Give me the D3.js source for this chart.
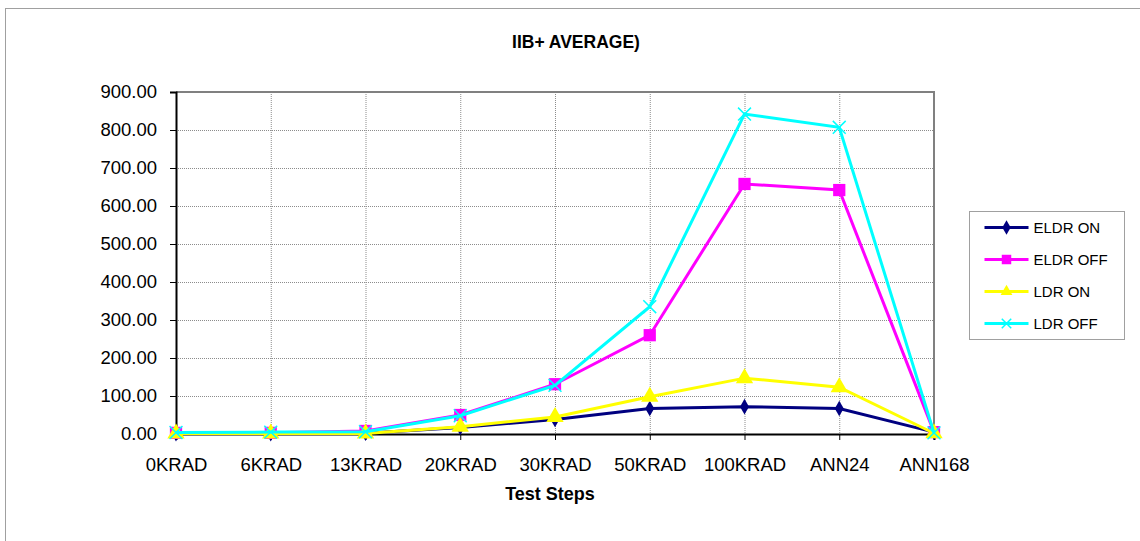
<!DOCTYPE html>
<html>
<head>
<meta charset="utf-8">
<script src="https://cdn.jsdelivr.net/npm/d3@7"></script>
<style>
  body { margin: 0; background: #fff; }
  svg { display: block; font-family: "Liberation Sans", Arial, sans-serif; }
</style>
</head>
<body>
<div id="chart"></div>
<script>
// categories along the x axis
const steps = ["0KRAD", "6KRAD", "13KRAD", "20KRAD", "30KRAD", "50KRAD", "100KRAD", "ANN24", "ANN168"];

// series values
const eldrOn  = [1, 1, 2, 17, 38, 67, 72, 67, 5];
const eldrOff = [3, 3, 8, 50, 131, 260, 658, 642, 5];
const ldrOn   = [1, 1, 1, 19, 45, 98, 147, 123, 2];
const ldrOff  = [4, 5, 6, 48, 128, 335, 842, 807, 3];

const yTicks = [0, 100, 200, 300, 400, 500, 600, 700, 800, 900];

const series = [
  { name: "ELDR ON",  values: eldrOn,  color: "#000080", marker: "diamond" },
  { name: "ELDR OFF", values: eldrOff, color: "#FF00FF", marker: "square" },
  { name: "LDR ON",   values: ldrOn,   color: "#FFFF00", marker: "triangle" },
  { name: "LDR OFF",  values: ldrOff,  color: "#00FFFF", marker: "cross" }
];

const width = 1140, height = 541;
const plot = { left: 176, right: 934, top: 92, bottom: 434 };

const svg = d3.select("#chart").append("svg")
  .attr("width", width)
  .attr("height", height);

// outer chart border (runs off the right and bottom)
svg.append("rect")
  .attr("x", 5.5).attr("y", 8.5)
  .attr("width", 1140).attr("height", 540)
  .attr("fill", "none")
  .attr("stroke", "#a0a0a0")
  .attr("stroke-width", 1);

const x = d3.scalePoint().domain(steps).range([plot.left, plot.right]);
const y = d3.scaleLinear().domain([0, 900]).range([plot.bottom, plot.top]);

// gridlines
const grid = svg.append("g");
grid.selectAll("line.h")
  .data(yTicks.slice(1))
  .join("line")
  .attr("x1", plot.left).attr("x2", plot.right)
  .attr("y1", d => y(d) + 0.5).attr("y2", d => y(d) + 0.5)
  .attr("stroke", "#8c8c8c")
  .attr("stroke-width", 1)
  .attr("stroke-dasharray", "1,1");
grid.selectAll("line.v")
  .data(steps.slice(1, -1))
  .join("line")
  .attr("x1", d => x(d) + 0.5).attr("x2", d => x(d) + 0.5)
  .attr("y1", plot.top).attr("y2", plot.bottom)
  .attr("stroke", "#8c8c8c")
  .attr("stroke-width", 1)
  .attr("stroke-dasharray", "1,1");

// plot frame: top & right gray
svg.append("path")
  .attr("d", `M${plot.left},${plot.top} H${plot.right} V${plot.bottom}`)
  .attr("fill", "none")
  .attr("stroke", "#808080")
  .attr("stroke-width", 2);

// axes
const yAxis = svg.append("g")
  .attr("transform", `translate(${plot.left},0)`)
  .call(d3.axisLeft(y).tickValues(yTicks).tickFormat(d3.format(".2f")).tickSize(6).tickPadding(13));
const xAxis = svg.append("g")
  .attr("transform", `translate(0,${plot.bottom})`)
  .call(d3.axisBottom(x).tickSize(6).tickPadding(18));

[yAxis, xAxis].forEach(a => {
  a.select(".domain").attr("stroke", "#000").attr("stroke-width", 2);
  a.selectAll(".tick line").attr("stroke", "#000");
  a.selectAll(".tick text")
    .attr("fill", "#000")
    .style("font-size", "18.5px")
    .style("font-family", "\"Liberation Sans\", Arial, sans-serif");
});

// marker shapes
const symbolFor = {
  diamond:  d3.symbol().type(d3.symbolDiamond).size(70),
  square:   d3.symbol().type(d3.symbolSquare).size(150),
  triangle: d3.symbol().type(d3.symbolTriangle).size(130),
  cross:    d3.symbol().type(d3.symbolX).size(110)
};

const line = d3.line()
  .x((d, i) => x(steps[i]))
  .y(d => y(d));

series.forEach(s => {
  const g = svg.append("g");
  g.append("path")
    .datum(s.values)
    .attr("d", line)
    .attr("fill", "none")
    .attr("stroke", s.color)
    .attr("stroke-width", 3);
  g.selectAll("path.m")
    .data(s.values)
    .join("path")
    .attr("transform", (d, i) => `translate(${x(steps[i])},${y(d)})`)
    .attr("d", symbolFor[s.marker])
    .attr("fill", s.marker === "cross" ? "none" : s.color)
    .attr("stroke", s.color)
    .attr("stroke-width", s.marker === "cross" ? 1.5 : 0);
});

// title
svg.append("text")
  .attr("x", 576).attr("y", 48)
  .attr("text-anchor", "middle")
  .style("font-size", "17.5px")
  .style("font-weight", "bold")
  .text("IIB+ AVERAGE)");

// x axis title
svg.append("text")
  .attr("x", 550).attr("y", 500)
  .attr("text-anchor", "middle")
  .style("font-size", "18px")
  .style("font-weight", "bold")
  .text("Test Steps");

// legend
const legend = svg.append("g").attr("transform", "translate(969.5,211.5)");
legend.append("rect")
  .attr("width", 155).attr("height", 128)
  .attr("fill", "#fff")
  .attr("stroke", "#a0a0a0");
const items = legend.selectAll("g.item")
  .data(series)
  .join("g")
  .attr("transform", (d, i) => `translate(0,${16 + i * 32})`);
items.append("line")
  .attr("x1", 15).attr("x2", 59)
  .attr("stroke", d => d.color)
  .attr("stroke-width", 3);
items.append("path")
  .attr("transform", "translate(37,0)")
  .attr("d", d => d3.symbol().type({diamond: d3.symbolDiamond, square: d3.symbolSquare, triangle: d3.symbolTriangle, cross: d3.symbolX}[d.marker]).size(d.marker === "square" ? 90 : 60)())
  .attr("fill", d => d.marker === "cross" ? "none" : d.color)
  .attr("stroke", d => d.color)
  .attr("stroke-width", d => d.marker === "cross" ? 1.5 : 0);
items.append("text")
  .attr("x", 64).attr("y", 5.5)
  .style("font-size", "15px")
  .text(d => d.name);
</script>
</body>
</html>
